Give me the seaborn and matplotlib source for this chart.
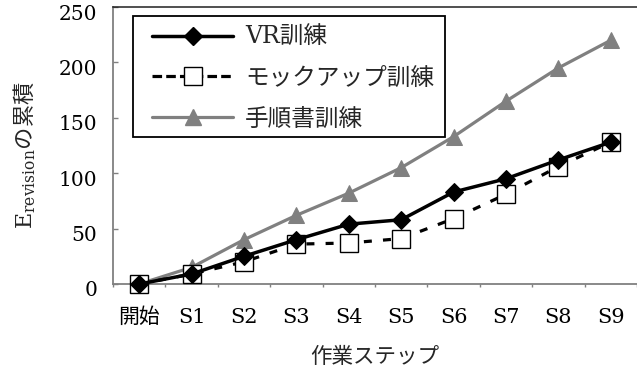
import matplotlib
matplotlib.use("Agg")
import matplotlib.pyplot as plt
import matplotlib.transforms as mtransforms
from matplotlib.lines import Line2D
from matplotlib.patches import Rectangle
import seaborn as sns
import pandas as pd

steps = ["開始", "S1", "S2", "S3", "S4", "S5", "S6", "S7", "S8", "S9"]
vr_values = [0, 9, 25, 40, 54, 58, 83, 95, 112, 128]
mock_values = [0, 9, 20, 36, 37, 41, 59, 81, 106, 128]
manual_values = [0, 15, 40, 62, 82, 105, 133, 165, 195, 220]
series_names = ["VR訓練", "モックアップ訓練", "手順書訓練"]
y_ticks = [0, 50, 100, 150, 200, 250]

sns.set_style("white")
plt.rcParams["font.family"] = ["DejaVu Serif", "Noto Sans CJK JP"]
plt.rcParams["mathtext.fontset"] = "custom"
plt.rcParams["mathtext.rm"] = "DejaVu Serif"
plt.rcParams["mathtext.sf"] = "Noto Sans CJK JP"

W, H = 637, 374
fig = plt.figure(figsize=(W / 100, H / 100), dpi=100)
ax = fig.add_axes([113 / W, 90 / H, 524 / W, 277 / H])

def ax_x(px):
    return (px - 113) / 524

def ax_y(py):
    return (284 - py) / 277

df_vr = pd.DataFrame({"step": steps, "value": vr_values})
df_mock = pd.DataFrame({"step": steps, "value": mock_values})
df_man = pd.DataFrame({"step": steps, "value": manual_values})

gray = "#808080"
sns.lineplot(data=df_man, x="step", y="value", ax=ax, sort=False, color=gray,
             linewidth=2.3, marker="^", markersize=12, markeredgecolor=gray,
             markerfacecolor=gray, zorder=2, clip_on=False)
sns.lineplot(data=df_mock, x="step", y="value", ax=ax, sort=False, color="black",
             linewidth=2.3, marker="s", markersize=12.5, markerfacecolor="white",
             markeredgecolor="black", markeredgewidth=1.0, zorder=3, clip_on=False)
ax.lines[-1].set_dashes([2.5, 3.5])
sns.lineplot(data=df_vr, x="step", y="value", ax=ax, sort=False, color="black",
             linewidth=2.5, marker="D", markersize=9.2, markerfacecolor="black",
             markeredgecolor="black", zorder=4, clip_on=False)

ax.set_xlim(-0.5, 9.5)
ax.set_ylim(0, 250)
ax.set_yticks(y_ticks)
ax.set_xlabel("")
ax.set_ylabel("")

for side in ["left", "bottom"]:
    ax.spines[side].set_color(gray)
    ax.spines[side].set_linewidth(1.3)
ax.spines["top"].set_color("#202020")
ax.spines["top"].set_linewidth(1.1)
ax.spines["right"].set_visible(False)

ax.set_xticks(range(len(steps)))
ax.set_xticklabels(steps)
ax.xaxis.set_minor_locator(matplotlib.ticker.FixedLocator([i - 0.5 for i in range(11)]))
ax.tick_params(axis="x", which="major", length=0, pad=17, labelsize=15, labelcolor="black")
ax.tick_params(axis="x", which="minor", direction="out", length=2.5, width=1.0, color=gray, bottom=True)
ax.tick_params(axis="y", direction="in", length=3.6, width=1.0, color=gray, pad=11.5,
               labelsize=14.5, labelcolor="black", left=True)

offset = mtransforms.ScaledTranslation(0, -5 / 100, fig.dpi_scale_trans)
for lab in ax.get_yticklabels():
    lab.set_transform(lab.get_transform() + offset)

ax.text(0.5, ax_y(357), "作業ステップ", transform=ax.transAxes,
        ha="center", va="center", fontsize=15.5)
ax.text(ax_x(25), ax_y(155), r"$\mathrm{E}_{\mathrm{revision}}\mathsf{の累積}$",
        transform=ax.transAxes, rotation=90, ha="center", va="center", fontsize=16)

# legend frame
frame = Rectangle((ax_x(133), ax_y(137)), ax_x(445) - ax_x(133), ax_y(16) - ax_y(137),
                  transform=ax.transAxes, facecolor="white", edgecolor="black",
                  linewidth=1.3, zorder=9, clip_on=False)
ax.add_patch(frame)

handles = [
    Line2D([], [], color="black", linewidth=2.5, marker="D", markersize=9.2,
           markerfacecolor="black"),
    Line2D([], [], color="black", linewidth=2.3, linestyle=(0, (3, 1.3)), marker="s",
           markersize=12.5, markerfacecolor="white", markeredgecolor="black",
           markeredgewidth=1.0),
    Line2D([], [], color=gray, linewidth=2.3, marker="^", markersize=12,
           markerfacecolor=gray, markeredgecolor=gray),
]
leg = ax.legend(handles, series_names, loc="upper left",
                bbox_to_anchor=(ax_x(152), ax_y(26)),
                borderaxespad=0, borderpad=0, frameon=False, fontsize=17,
                handlelength=3.45, handletextpad=0.5, labelspacing=0.75)
leg.set_zorder(10)

fig.savefig("out.png", dpi=100)
